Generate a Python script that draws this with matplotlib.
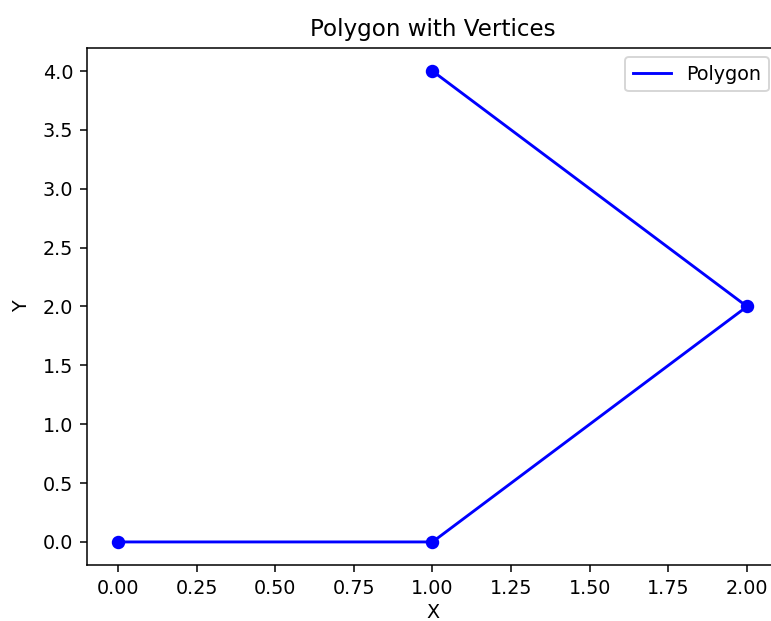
import matplotlib
matplotlib.use("Agg")
import matplotlib.pyplot as plt

# polygon vertices, in drawing order
x = [0, 1, 2, 1]
y = [0, 0, 2, 4]

DPI = 138
fig = plt.figure(figsize=(771 / DPI, 621 / DPI), dpi=DPI)
# the reference is cropped on the right, so the axes run past the figure edge
ax = fig.add_axes([0.1122, 0.0894, 0.8975, 0.8341])

ax.plot(x, y, 'b-', label='Polygon')
ax.plot(x, y, 'bo')

ax.set_title('Polygon with Vertices')
ax.set_xlabel('X', labelpad=2.5)
ax.set_ylabel('Y', labelpad=6)
ax.legend()

fig.savefig('out.png', dpi=DPI)
